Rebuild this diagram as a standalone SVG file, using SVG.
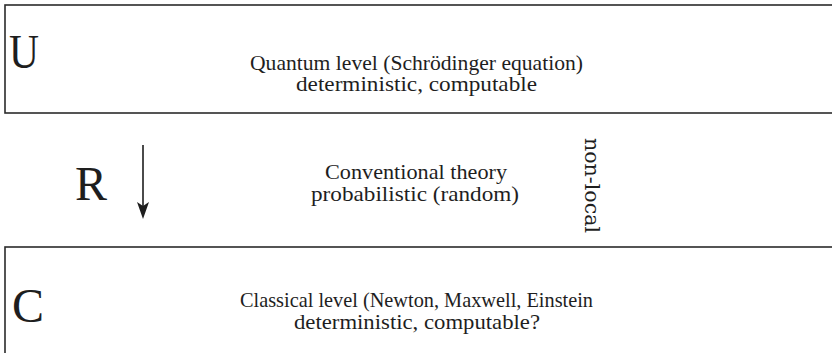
<svg xmlns="http://www.w3.org/2000/svg" width="832" height="353" viewBox="0 0 832 353">
<style>
.box{fill:#fff;stroke:#2b2b2b;stroke-width:1.6}
.t{font-family:"Liberation Serif","Times New Roman",serif;font-size:22px;fill:#1e1e1e;text-anchor:middle}
.big{font-family:"Liberation Serif","Times New Roman",serif;font-size:48px;fill:#1e1e1e}
.side{font-family:"DejaVu Serif",serif;font-size:20.5px;fill:#1e1e1e}
</style>
<rect width="832" height="353" fill="#fff"/>
<g id="quantum">
<rect class="box" x="5" y="5" width="840" height="108"/>
<text class="big" x="9" y="68" textLength="30" lengthAdjust="spacingAndGlyphs">U</text>
<text class="t" x="416.5" y="70" textLength="333" lengthAdjust="spacingAndGlyphs">Quantum level (Schrödinger equation)</text>
<text class="t" x="416.5" y="91" textLength="241" lengthAdjust="spacingAndGlyphs">deterministic, computable</text>
</g>
<g id="conventional">
<text class="big" x="75" y="200" textLength="32" lengthAdjust="spacingAndGlyphs">R</text>
<text class="t" x="416" y="179" textLength="182" lengthAdjust="spacingAndGlyphs">Conventional theory</text>
<text class="t" x="415" y="201" textLength="208" lengthAdjust="spacingAndGlyphs">probabilistic (random)</text>
<text class="side" transform="translate(585,138) rotate(90)" x="0" y="0" textLength="95" lengthAdjust="spacingAndGlyphs">non-local</text>
</g>
<g id="classical">
<rect class="box" x="5" y="247" width="840" height="120"/>
<text class="big" x="12" y="322" textLength="32" lengthAdjust="spacingAndGlyphs">C</text>
<text class="t" x="416.5" y="307" textLength="353" lengthAdjust="spacingAndGlyphs">Classical level (Newton, Maxwell, Einstein</text>
<text class="t" x="417" y="329" textLength="246" lengthAdjust="spacingAndGlyphs">deterministic, computable?</text>
</g>
<g id="connectors">
<line x1="143" y1="145" x2="143" y2="208" stroke="#1e1e1e" stroke-width="1.6"/>
<polygon points="143,219 137,202 143,206 149,202" fill="#1e1e1e"/>
</g>
</svg>
